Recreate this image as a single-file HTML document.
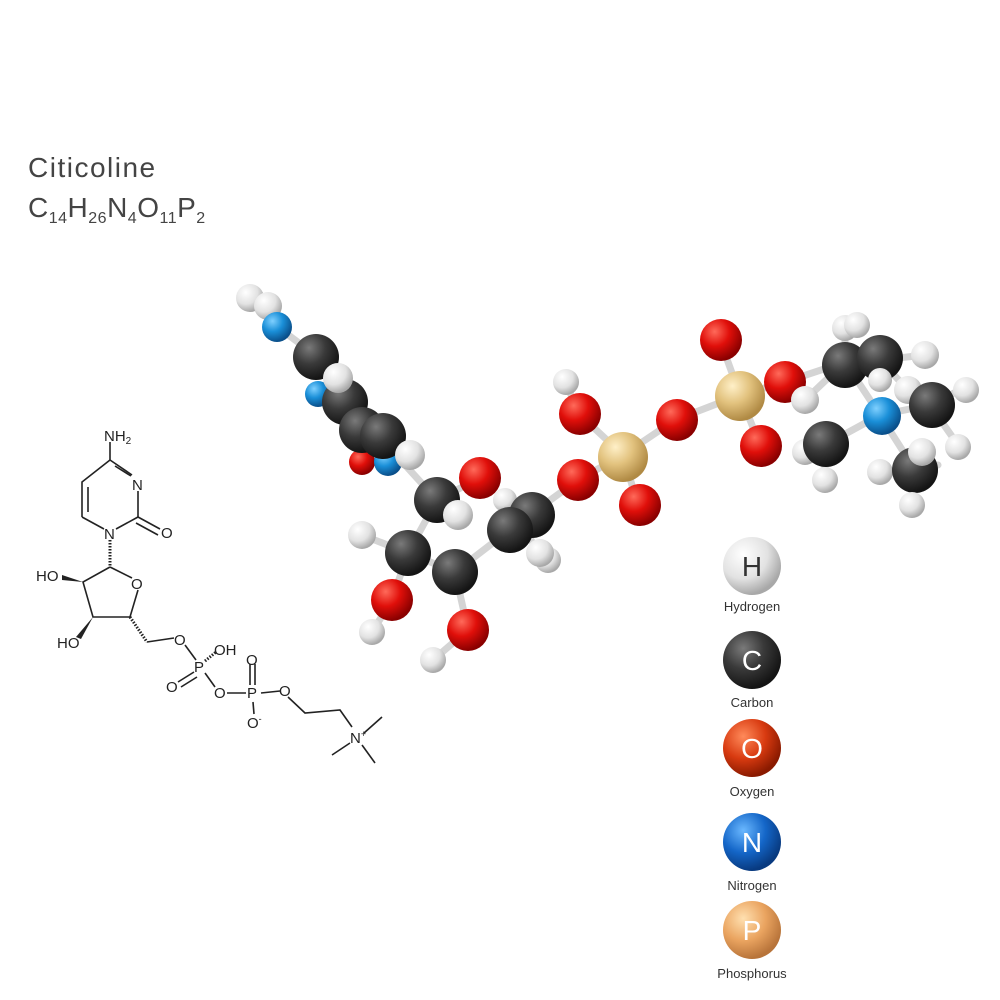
<!DOCTYPE html>
<html><head><meta charset="utf-8"><style>
html,body{margin:0;padding:0;background:#fff;}
svg{display:block;font-family:"Liberation Sans",sans-serif;}
</style></head><body>
<svg width="1000" height="1000" viewBox="0 0 1000 1000" xmlns="http://www.w3.org/2000/svg">
<defs>
<radialGradient id="gH" cx="35%" cy="30%" r="70%"><stop offset="0" stop-color="#fff"/><stop offset=".6" stop-color="#e2e2e2"/><stop offset="1" stop-color="#a8a8a8"/></radialGradient>
<radialGradient id="gC" cx="35%" cy="30%" r="70%"><stop offset="0" stop-color="#7a7a7a"/><stop offset=".5" stop-color="#3a3a3a"/><stop offset="1" stop-color="#141414"/></radialGradient>
<radialGradient id="gO" cx="35%" cy="30%" r="70%"><stop offset="0" stop-color="#ff6a5a"/><stop offset=".5" stop-color="#e00f0a"/><stop offset="1" stop-color="#8a0000"/></radialGradient>
<radialGradient id="gN" cx="35%" cy="30%" r="70%"><stop offset="0" stop-color="#7fd0ff"/><stop offset=".5" stop-color="#1a8fd8"/><stop offset="1" stop-color="#0a4f8a"/></radialGradient>
<radialGradient id="gP" cx="35%" cy="30%" r="70%"><stop offset="0" stop-color="#fff0c8"/><stop offset=".5" stop-color="#e2c27e"/><stop offset="1" stop-color="#b08a44"/></radialGradient>
<radialGradient id="gLO" cx="35%" cy="30%" r="70%"><stop offset="0" stop-color="#ff8a5a"/><stop offset=".55" stop-color="#d83a10"/><stop offset="1" stop-color="#8a1a00"/></radialGradient>
<radialGradient id="gLN" cx="35%" cy="30%" r="70%"><stop offset="0" stop-color="#6ab8ff"/><stop offset=".55" stop-color="#1466c8"/><stop offset="1" stop-color="#083a80"/></radialGradient>
<radialGradient id="gLP" cx="35%" cy="30%" r="70%"><stop offset="0" stop-color="#ffe0b0"/><stop offset=".55" stop-color="#eaa460"/><stop offset="1" stop-color="#b8743a"/></radialGradient>
</defs>

<text x="28" y="177" font-size="28" fill="#444" letter-spacing="1.5">Citicoline</text>
<text x="28" y="217" font-size="28" fill="#444" letter-spacing="0.5">C<tspan font-size="16" dy="6">14</tspan><tspan dy="-6">H</tspan><tspan font-size="16" dy="6">26</tspan><tspan dy="-6">N</tspan><tspan font-size="16" dy="6">4</tspan><tspan dy="-6">O</tspan><tspan font-size="16" dy="6">11</tspan><tspan dy="-6">P</tspan><tspan font-size="16" dy="6">2</tspan></text>

<!-- structural formula -->
<g stroke="#222" stroke-width="1.6" fill="none">
<polyline points="110,442 110,460 132,475"/>
<line x1="138" y1="491" x2="138" y2="517"/>
<line x1="138" y1="517" x2="160" y2="529"/><line x1="136" y1="523" x2="158" y2="535"/>
<line x1="138" y1="517" x2="116" y2="529"/>
<line x1="104" y1="529" x2="82" y2="517"/>
<polyline points="82,517 82,482 110,460"/>
<line x1="88" y1="512" x2="88" y2="487"/>
<line x1="115" y1="466" x2="131" y2="476"/>
<line x1="110" y1="540" x2="110" y2="567" stroke-dasharray="1.5,1.5" stroke-width="3"/>
<polyline points="110,567 132,578"/>
<polyline points="138,590 130,617 93,617 83,582 110,567"/>
<line x1="130" y1="617" x2="147" y2="642" stroke-dasharray="1.5,1.5" stroke-width="3"/>
<polyline points="147,642 174,638"/>
<line x1="185" y1="645" x2="196" y2="660"/>
<line x1="205" y1="661" x2="216" y2="652" stroke-dasharray="1.5,1.5" stroke-width="3"/>
<line x1="194" y1="672" x2="178" y2="682"/><line x1="197" y1="677" x2="181" y2="687"/>
<line x1="205" y1="673" x2="215" y2="687"/>
<line x1="227" y1="693" x2="246" y2="693"/>
<line x1="250" y1="664" x2="250" y2="685"/><line x1="255" y1="664" x2="255" y2="685"/>
<line x1="253" y1="702" x2="254" y2="714"/>
<line x1="261" y1="693" x2="280" y2="691"/>
<polyline points="288,697 305,713 340,710 352,727"/>
<line x1="364" y1="733" x2="382" y2="717"/>
<line x1="362" y1="745" x2="375" y2="763"/>
<line x1="350" y1="743" x2="332" y2="755"/>
</g>
<polygon points="83,582 62,575 62,580" fill="#222"/>
<polygon points="93,617 76,637 81,639" fill="#222"/>
<g font-size="15" fill="#222">
<text x="104" y="441">NH<tspan font-size="10" dy="3">2</tspan></text>
<text x="132" y="490">N</text>
<text x="161" y="538">O</text>
<text x="104" y="539">N</text>
<text x="131" y="589">O</text>
<text x="36" y="581">HO</text>
<text x="57" y="648">HO</text>
<text x="174" y="645">O</text>
<text x="194" y="672">P</text>
<text x="214" y="655">OH</text>
<text x="166" y="692">O</text>
<text x="214" y="698">O</text>
<text x="247" y="698">P</text>
<text x="246" y="665">O</text>
<text x="247" y="728">O<tspan font-size="9" dy="-6">-</tspan></text>
<text x="279" y="696">O</text>
<text x="350" y="743">N<tspan font-size="9" dy="-6">+</tspan></text>
</g>

<!-- bonds -->
<g stroke="#d4d4d4" stroke-width="7" stroke-linecap="round" fill="none">
<path fill="none" d="M255,300 L275,325 L315,355 L345,400 L375,432 L437,500 L408,553 L455,572 L520,522 L578,480 L623,455 L675,420 L740,395 L785,382 L845,362 L880,415 L825,445 M880,415 L930,405 M880,415 L915,470 M623,455 L578,413 L566,382 M623,455 L638,505 M740,395 L720,340 M740,395 L760,445 M437,500 L480,478 M408,553 L392,600 L372,632 M455,572 L468,630 L433,660 M408,553 L362,535 M437,500 L458,515 M520,522 L540,555 M375,432 L410,455 M845,362 L845,330 M880,360 L925,355 M880,360 L845,362 M825,445 L805,450 M825,445 L825,480 M930,405 L960,390 M930,405 L958,445 M915,470 L912,505 M915,470 L938,465 M845,362 L805,400 M880,360 L908,390"/>
</g>

<!-- atoms -->
<g>
<circle cx="250" cy="298" r="14" fill="url(#gH)"/>
<circle cx="268" cy="306" r="14" fill="url(#gH)"/>
<circle cx="277" cy="327" r="15" fill="url(#gN)"/>
<circle cx="318" cy="394" r="13" fill="url(#gN)"/>
<circle cx="316" cy="357" r="23" fill="url(#gC)"/>
<circle cx="345" cy="402" r="23" fill="url(#gC)"/>
<circle cx="338" cy="378" r="15" fill="url(#gH)"/>
<circle cx="362" cy="462" r="13" fill="url(#gO)"/>
<circle cx="362" cy="430" r="23" fill="url(#gC)"/>
<circle cx="388" cy="462" r="14" fill="url(#gN)"/>
<circle cx="383" cy="436" r="23" fill="url(#gC)"/>
<circle cx="410" cy="455" r="15" fill="url(#gH)"/>
<circle cx="480" cy="478" r="21" fill="url(#gO)"/>
<circle cx="437" cy="500" r="23" fill="url(#gC)"/>
<circle cx="458" cy="515" r="15" fill="url(#gH)"/>
<circle cx="505" cy="500" r="12" fill="url(#gH)"/>
<circle cx="362" cy="535" r="14" fill="url(#gH)"/>
<circle cx="408" cy="553" r="23" fill="url(#gC)"/>
<circle cx="548" cy="560" r="13" fill="url(#gH)"/>
<circle cx="540" cy="553" r="14" fill="url(#gH)"/>
<circle cx="532" cy="515" r="23" fill="url(#gC)"/>
<circle cx="510" cy="530" r="23" fill="url(#gC)"/>
<circle cx="455" cy="572" r="23" fill="url(#gC)"/>
<circle cx="392" cy="600" r="21" fill="url(#gO)"/>
<circle cx="372" cy="632" r="13" fill="url(#gH)"/>
<circle cx="468" cy="630" r="21" fill="url(#gO)"/>
<circle cx="433" cy="660" r="13" fill="url(#gH)"/>
<circle cx="566" cy="382" r="13" fill="url(#gH)"/>
<circle cx="580" cy="414" r="21" fill="url(#gO)"/>
<circle cx="578" cy="480" r="21" fill="url(#gO)"/>
<circle cx="623" cy="457" r="25" fill="url(#gP)"/>
<circle cx="640" cy="505" r="21" fill="url(#gO)"/>
<circle cx="677" cy="420" r="21" fill="url(#gO)"/>
<circle cx="721" cy="340" r="21" fill="url(#gO)"/>
<circle cx="740" cy="396" r="25" fill="url(#gP)"/>
<circle cx="761" cy="446" r="21" fill="url(#gO)"/>
<circle cx="785" cy="382" r="21" fill="url(#gO)"/>
<circle cx="845" cy="328" r="13" fill="url(#gH)"/>
<circle cx="857" cy="325" r="13" fill="url(#gH)"/>
<circle cx="845" cy="365" r="23" fill="url(#gC)"/>
<circle cx="925" cy="355" r="14" fill="url(#gH)"/>
<circle cx="880" cy="358" r="23" fill="url(#gC)"/>
<circle cx="805" cy="400" r="14" fill="url(#gH)"/>
<circle cx="908" cy="390" r="14" fill="url(#gH)"/>
<circle cx="805" cy="452" r="13" fill="url(#gH)"/>
<circle cx="826" cy="444" r="23" fill="url(#gC)"/>
<circle cx="825" cy="480" r="13" fill="url(#gH)"/>
<circle cx="880" cy="380" r="12" fill="url(#gH)"/>
<circle cx="882" cy="416" r="19" fill="url(#gN)"/>
<circle cx="966" cy="390" r="13" fill="url(#gH)"/>
<circle cx="932" cy="405" r="23" fill="url(#gC)"/>
<circle cx="880" cy="472" r="13" fill="url(#gH)"/>
<circle cx="958" cy="447" r="13" fill="url(#gH)"/>
<circle cx="915" cy="470" r="23" fill="url(#gC)"/>
<circle cx="922" cy="452" r="14" fill="url(#gH)"/>
<circle cx="912" cy="505" r="13" fill="url(#gH)"/>
</g>

<!-- legend -->
<g font-size="13" fill="#333" text-anchor="middle">
<circle cx="752" cy="566" r="29" fill="url(#gH)"/>
<text x="752" y="576" font-size="28" fill="#333">H</text>
<text x="752" y="611">Hydrogen</text>
<circle cx="752" cy="660" r="29" fill="url(#gC)"/>
<text x="752" y="670" font-size="28" fill="#fff">C</text>
<text x="752" y="707">Carbon</text>
<circle cx="752" cy="748" r="29" fill="url(#gLO)"/>
<text x="752" y="758" font-size="28" fill="#fff">O</text>
<text x="752" y="796">Oxygen</text>
<circle cx="752" cy="842" r="29" fill="url(#gLN)"/>
<text x="752" y="852" font-size="28" fill="#fff">N</text>
<text x="752" y="890">Nitrogen</text>
<circle cx="752" cy="930" r="29" fill="url(#gLP)"/>
<text x="752" y="940" font-size="28" fill="#fff">P</text>
<text x="752" y="978">Phosphorus</text>
</g>
</svg>
</body></html>
